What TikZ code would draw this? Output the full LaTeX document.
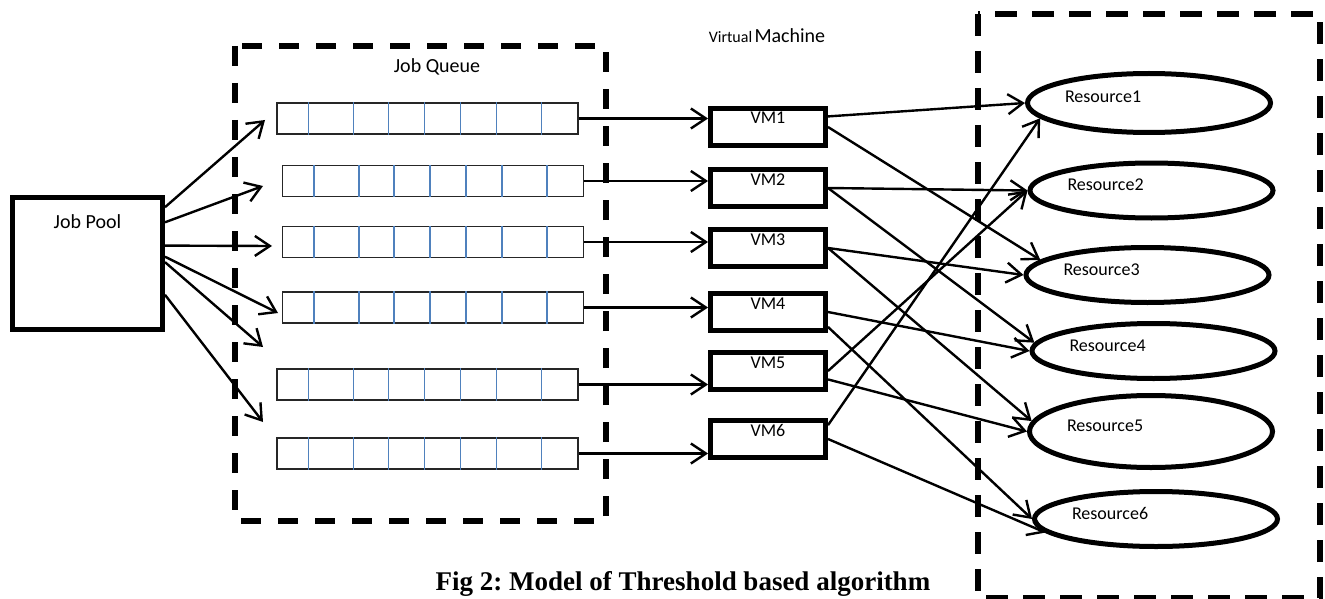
\documentclass[tikz,border=0pt]{standalone}
\usepackage{fontspec}
\setmainfont{Carlito}
\newfontfamily\capfont{Liberation Serif}
\usetikzlibrary{arrows.meta, positioning, shapes.geometric}
\definecolor{cellblue}{RGB}{79,129,189}
\frenchspacing

\begin{document}
\begin{tikzpicture}[x=1pt, y=-1pt,
        box/.style={draw, line width=5pt, inner sep=2pt},
        vmbox/.style={box, minimum width=115pt, minimum height=37pt, font=\fontsize{18}{20}\selectfont, text height=12pt, text depth=18pt},
        res/.style={draw, ellipse, line width=5pt, inner sep=0pt, minimum width=243pt, minimum height=55pt, text width=168pt, align=left, font=\fontsize{18}{20}\selectfont, text height=12pt, text depth=12pt},
        queue/.style={draw=black!85, line width=1.3pt, minimum width=301pt, minimum height=31pt, inner sep=0pt},
        group/.style={draw, line width=6pt, dash pattern=on 20pt off 17pt},
        arr/.style={line width=2.4pt, -{Straight Barb[length=15pt,width=20pt]}}]
        \useasboundingbox (0,0) rectangle (1325,599);

        % frames
        \draw[group] (235,46) rectangle (606,521);
        \draw[group, dash pattern=on 22pt off 15pt] (978,14) rectangle (1320,598);

        \node[box, minimum width=150pt, minimum height=132pt, font=\fontsize{20}{22}\selectfont, text height=14pt, text depth=84pt](pool) at (87.5,263.5){Job Pool};
        \node[font=\fontsize{20}{22}\selectfont](queuetitle) at (437,67){Job Queue};
        \node(vmtitle) at (767,36){{\fontsize{16}{18}\selectfont Virtual} {\fontsize{20}{22}\selectfont Machine}};

        % queues
        \node[queue](q1) at (427.5,118.5){};
        \node[queue](q2) at (433,181){};
        \node[queue](q3) at (433,242){};
        \node[queue](q4) at (433,307.5){};
        \node[queue](q5) at (427.5,384.5){};
        \node[queue](q6) at (427.5,453.5){};
        \foreach \q in {q1,q2,q3,q4,q5,q6}
            \foreach \d in {32,77,112,148,184,220,265}
                \draw[cellblue, line width=1.6pt] ([xshift=\d pt]\q.south west) -- ([xshift=\d pt]\q.north west);

        % virtual machines
        \node[vmbox](vm1) at (768,127){VM1};
        \node[vmbox](vm2) at (768,188){VM2};
        \node[vmbox](vm3) at (768,248){VM3};
        \node[vmbox](vm4) at (768,312){VM4};
        \node[vmbox](vm5) at (768,371){VM5};
        \node[vmbox](vm6) at (768,439){VM6};

        % resources
        \node[res, minimum height=59pt](r1) at (1149,103){Resource1};
        \node[res](r2) at (1151.5,190.5){Resource2};
        \node[res](r3) at (1147.5,275){Resource3};
        \node[res](r4) at (1153.5,351){Resource4};
        \node[res, minimum height=72pt](r5) at (1151,431.5){Resource5};
        \node[res](r6) at (1156,519){Resource6};

        \coordinate (t1) at (265,120);
        \coordinate (t2) at (263,186);
        \coordinate (t3) at (272,246);
        \coordinate (t4) at (278,313);
        \coordinate (t5) at (263,347);
        \coordinate (t6) at (263,422);

        \path[arr]
        (pool.36) edge (t1)
        (pool.28) edge (t2)
        (pool.13) edge (t3)
        (pool.5) edge (t4)
        (pool.1) edge (t5)
        (pool.-22) edge (t6);

        \path[arr]
        (q1.east) edge (q1.east -| vm1.west)
        (q2.east) edge (q2.east -| vm2.west)
        (q3.east) edge (q3.east -| vm3.west)
        (q4.east) edge (q4.east -| vm4.west)
        (q5.east) edge (q5.east -| vm5.west)
        (q6.east) edge (q6.east -| vm6.west);

        \path[arr]
        (vm1.10) edge (r1.west)
        (vm1.east) edge (r3.172)
        (vm2.east) edge (r2.west)
        (vm2.east) edge (r4.176)
        (vm3.east) edge (r3.west)
        (vm3.east) edge (r5.175)
        (vm4.east) edge (r4.west)
        (vm4.-14) edge (r6.west)
        (vm5.east) edge (r2.west)
        (vm5.-8) edge (r5.west)
        (vm6.13) edge (r1.188)
        (vm6.east) edge (r6.187);

        \node[font=\capfont\bfseries\fontsize{27}{29}\selectfont, anchor=base](caption) at (683,590){Fig 2: Model of Threshold based algorithm};
    \end{tikzpicture}
\end{document}
